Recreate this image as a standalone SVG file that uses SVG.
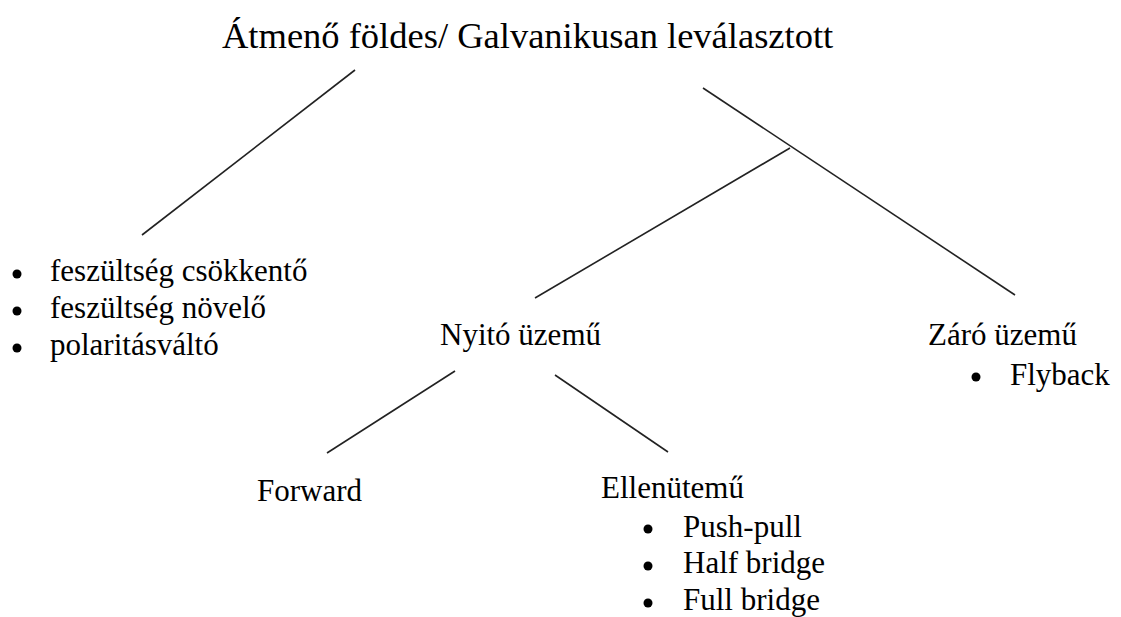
<svg xmlns="http://www.w3.org/2000/svg" width="1121" height="617" viewBox="0 0 1121 617">
  <style>
    text { font-family: "Liberation Serif", "Times New Roman", serif; fill: #000; }
    .t { font-size: 36.5px; }
    .n { font-size: 31px; }
    .b { fill: #000; }
    #connectors line { stroke: #222; stroke-width: 1.6; }
  </style>
  <rect width="1121" height="617" fill="#fff"/>
  <g id="connectors">
    <line x1="355" y1="70" x2="142" y2="235"/>
    <line x1="703" y1="88" x2="1015" y2="295"/>
    <line x1="790" y1="148" x2="535" y2="298"/>
    <line x1="455" y1="371" x2="327" y2="453"/>
    <line x1="555" y1="375" x2="668" y2="452"/>
  </g>
  <g id="root">
    <text class="t" x="222" y="48">Átmenő földes/ Galvanikusan leválasztott</text>
  </g>
  <g id="non-isolated">
    <circle class="b" cx="17" cy="274" r="4.5"/>
    <text class="n" x="50" y="281">feszültség csökkentő</text>
    <circle class="b" cx="17" cy="311" r="4.5"/>
    <text class="n" x="50" y="318">feszültség növelő</text>
    <circle class="b" cx="17" cy="348" r="4.5"/>
    <text class="n" x="50" y="355">polaritásváltó</text>
  </g>
  <g id="forward-mode">
    <text class="n" x="440" y="345">Nyitó üzemű</text>
  </g>
  <g id="flyback-mode">
    <text class="n" x="928" y="345">Záró üzemű</text>
    <circle class="b" cx="976" cy="377" r="4.5"/>
    <text class="n" x="1010" y="385">Flyback</text>
  </g>
  <g id="forward">
    <text class="n" x="257" y="501">Forward</text>
  </g>
  <g id="push-pull">
    <text class="n" x="601" y="498">Ellenütemű</text>
    <circle class="b" cx="648" cy="529" r="4.5"/>
    <text class="n" x="683" y="537">Push-pull</text>
    <circle class="b" cx="648" cy="566" r="4.5"/>
    <text class="n" x="683" y="573">Half bridge</text>
    <circle class="b" cx="648" cy="603" r="4.5"/>
    <text class="n" x="683" y="610">Full bridge</text>
  </g>
</svg>
